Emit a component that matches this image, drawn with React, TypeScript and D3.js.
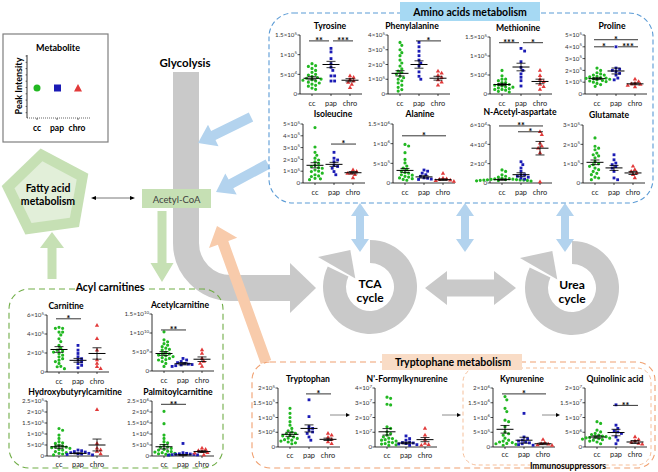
import React from "react";
import * as d3 from "d3";

const FONT = "Lato, 'Open Sans', sans-serif";

const categories = ["cc", "pap", "chro"];
const groupColors = ["#22b822", "#1b1bb5", "#e23a3a"];

type Tick = [number, string];
type Sig = [number, number, string, number];
type Metab = {
  title: string; cc: number[]; pap: number[]; chro: number[];
  mean: number[]; sem: number[]; yMax: number; ticks: Tick[]; sig: Sig[];
};

// ---------------- Amino acids ----------------
const tyrosine: Metab = {
  title: "Tyrosine",
  cc: [0.77, 0.72, 0.70, 0.65, 0.60, 0.55, 0.50, 0.48, 0.45, 0.42, 0.40, 0.38, 0.36, 0.35, 0.33, 0.30, 0.28, 0.25, 0.22, 0.20, 0.15, 0.12],
  pap: [1.16, 1.07, 0.90, 0.77, 0.68, 0.60, 0.46, 0.46, 0.33, 0.33],
  chro: [0.46, 0.42, 0.37, 0.33, 0.29, 0.24, 0.16],
  mean: [0.40, 0.75, 0.35], sem: [0.04, 0.08, 0.04], yMax: 1.5,
  ticks: [[0, "0"], [0.5, "5×10^4"], [1, "1×10^5"], [1.5, "1.5×10^5"]],
  sig: [[0, 1, "**", 1.35], [1, 2, "***", 1.35]],
};
const phenylalanine: Metab = {
  title: "Phenylalanine",
  cc: [3.5, 3.3, 3.0, 2.8, 2.6, 2.3, 2.1, 1.9, 1.7, 1.55, 1.45, 1.35, 1.2, 1.1, 1.0, 0.9, 0.75, 0.6, 0.45, 0.3, 0.2],
  pap: [3.5, 3.2, 2.9, 2.6, 2.3, 2.1, 1.9, 1.5, 1.2, 1.0],
  chro: [1.55, 1.4, 1.25, 1.1, 0.95, 0.8, 0.6],
  mean: [1.4, 2.0, 1.07], sem: [0.18, 0.25, 0.13], yMax: 4,
  ticks: [[0, "0"], [1, "1×10^5"], [2, "2×10^5"], [3, "3×10^5"], [4, "4×10^5"]],
  sig: [[1, 2, "*", 3.6]],
};
const methionine: Metab = {
  title: "Methionine",
  cc: [0.62, 0.48, 0.39, 0.35, 0.30, 0.25, 0.23, 0.21, 0.18, 0.16, 0.14, 0.12, 0.10, 0.07, 0.05, 0.39, 0.30, 0.25, 0.19, 0.12],
  pap: [1.2, 1.13, 0.85, 0.70, 0.62, 0.53, 0.44, 0.35, 0.21],
  chro: [0.62, 0.48, 0.39, 0.32, 0.25, 0.19, 0.12],
  mean: [0.25, 0.71, 0.33], sem: [0.03, 0.1, 0.06], yMax: 1.5,
  ticks: [[0, "0"], [0.5, "5×10^4"], [1, "1×10^5"], [1.5, "1.5×10^5"]],
  sig: [[0, 1, "***", 1.35], [1, 2, "*", 1.35]],
};
const proline: Metab = {
  title: "Proline",
  cc: [2.2, 2.0, 1.8, 1.7, 1.6, 1.5, 1.4, 1.33, 1.25, 1.2, 1.15, 1.05, 0.9, 0.8, 0.65, 1.45, 1.3, 1.1, 1.0, 1.6, 1.35],
  pap: [4.0, 2.2, 2.0, 1.9, 1.75, 1.6, 1.35, 1.2, 2.1],
  chro: [1.25, 1.05, 0.92, 0.8, 0.72, 0.6, 0.85],
  mean: [1.3, 1.95, 0.86], sem: [0.08, 0.25, 0.08], yMax: 5,
  ticks: [[0, "0"], [1, "1×10^5"], [2, "2×10^5"], [3, "3×10^5"], [4, "4×10^5"], [5, "5×10^5"]],
  sig: [[0, 2, "*", 4.6], [0, 1, "*", 4.0], [1, 2, "***", 4.0]],
};
const isoleucine: Metab = {
  title: "Isoleucine",
  cc: [4.7, 3.05, 2.6, 2.35, 2.1, 1.95, 1.65, 1.5, 1.4, 1.25, 1.1, 0.97, 0.83, 0.7, 0.55, 0.4, 0.28, 1.3, 1.0, 0.6, 0.35, 1.8],
  pap: [2.6, 2.1, 1.95, 1.8, 1.5, 1.4, 1.25, 0.97, 0.7],
  chro: [1.1, 0.97, 0.83, 0.7, 0.42, 0.8],
  mean: [1.5, 1.58, 0.87], sem: [0.22, 0.17, 0.1], yMax: 5,
  ticks: [[0, "0"], [1, "1×10^5"], [2, "2×10^5"], [3, "3×10^5"], [4, "4×10^5"], [5, "5×10^5"]],
  sig: [[1, 2, "*", 3.3]],
};
const alanine: Metab = {
  title: "Alanine",
  cc: [0.98, 0.94, 0.77, 0.6, 0.51, 0.43, 0.34, 0.30, 0.26, 0.21, 0.17, 0.13, 0.09, 0.07, 0.25, 0.15, 0.11, 0.38, 0.2],
  pap: [0.33, 0.30, 0.21, 0.17, 0.13, 0.10, 0.09, 0.25, 0.12],
  chro: [0.24, 0.10, 0.09, 0.06, 0.04, 0.07, 0.12],
  mean: [0.32, 0.155, 0.085], sem: [0.05, 0.03, 0.02], yMax: 1.5,
  ticks: [[0, "0"], [0.5, "5×10^5"], [1, "1×10^6"], [1.5, "1.5×10^6"]],
  sig: [[0, 2, "*", 1.2]],
};
const nAcetylAspartate: Metab = {
  title: "N-Acetyl-aspartate",
  cc: [1.35, 1.2, 0.85, 0.7, 0.5, 0.4, 0.35, 0.28, 0.3, 0.25, 0.32, 0.38, 0.45, 0.22, 0.3, 0.27, 0.35, 0.42, 0.6, 0.2, 0.33],
  pap: [2.2, 1.9, 1.55, 1.2, 0.85, 0.7, 0.5, 0.4, 0.85, 0.6],
  chro: [5.3, 5.0, 4.1, 3.8, 3.6, 3.1, 0.1],
  mean: [0.35, 0.86, 3.6], sem: [0.07, 0.2, 0.7], yMax: 6,
  ticks: [[0, "0"], [2, "2×10^4"], [4, "4×10^4"], [6, "6×10^4"]],
  sig: [[0, 2, "**", 5.9], [1, 2, "*", 5.3]],
};
const glutamate: Metab = {
  title: "Glutamate",
  cc: [2.33, 1.9, 1.8, 1.72, 1.55, 1.46, 1.3, 1.12, 0.95, 0.86, 0.77, 0.69, 0.6, 0.43, 0.26, 0.17, 1.0, 0.5, 1.4, 0.3],
  pap: [1.46, 1.2, 1.03, 0.95, 0.77, 0.6, 0.26, 0.17, 0.85],
  chro: [0.86, 0.69, 0.6, 0.52, 0.43, 0.26],
  mean: [1.07, 0.78, 0.52], sem: [0.12, 0.13, 0.08], yMax: 3,
  ticks: [[0, "0"], [1, "1×10^5"], [2, "2×10^5"], [3, "3×10^5"]],
  sig: [],
};

// ---------------- Acyl carnitines ----------------
const carnitine: Metab = {
  title: "Carnitine",
  cc: [4.7, 4.6, 4.2, 3.9, 3.5, 3.2, 2.8, 2.5, 2.3, 2.1, 1.95, 1.77, 1.6, 1.4, 1.25, 0.9, 0.55, 0.35, 4.6, 4.2, 2.2, 1.1, 0.6],
  pap: [2.8, 2.3, 1.95, 1.6, 1.4, 1.25, 1.05, 0.88, 0.7, 0.45],
  chro: [4.9, 3.5, 2.3, 1.25, 0.9, 0.55, 0.35],
  mean: [2.37, 1.23, 1.95], sem: [0.3, 0.2, 0.6], yMax: 6,
  ticks: [[0, "0"], [2, "2×10^5"], [4, "4×10^5"], [6, "6×10^5"]],
  sig: [[0, 1, "*", 5.6]],
};
const acetylcarnitine: Metab = {
  title: "Acetylcarnitine",
  cc: [1.03, 0.82, 0.77, 0.72, 0.68, 0.64, 0.57, 0.5, 0.46, 0.42, 0.38, 0.33, 0.29, 0.25, 0.2, 0.12, 0.55, 0.45, 0.35, 0.6, 0.4, 0.3],
  pap: [0.33, 0.29, 0.25, 0.2, 0.18, 0.17, 0.14, 0.12, 0.22, 0.16],
  chro: [0.55, 0.46, 0.33, 0.25, 0.2, 0.12],
  mean: [0.46, 0.19, 0.31], sem: [0.05, 0.03, 0.06], yMax: 1.5,
  ticks: [[0, "0"], [0.5, "5×10^9"], [1, "1×10^10"], [1.5, "1.5×10^10"]],
  sig: [[0, 1, "**", 1.08]],
};
const hydroxybutyrylcarnitine: Metab = {
  title: "Hydroxybutyrylcarnitine",
  cc: [1.25, 1.17, 0.95, 0.8, 0.65, 0.57, 0.5, 0.42, 0.35, 0.27, 0.2, 0.12, 0.09, 0.45, 0.38, 0.3, 0.15, 0.05, 0.6, 0.4],
  pap: [0.27, 0.24, 0.2, 0.15, 0.12, 0.09, 0.05, 0.18, 0.1, 0.07],
  chro: [2.1, 0.57, 0.35, 0.27, 0.2, 0.09],
  mean: [0.42, 0.12, 0.5], sem: [0.07, 0.02, 0.27], yMax: 2.5,
  ticks: [[0, "0"], [0.5, "5×10^4"], [1, "1×10^5"], [1.5, "1.5×10^5"], [2, "2×10^5"], [2.5, "2.5×10^5"]],
  sig: [],
};
const palmitoylcarnitine: Metab = {
  title: "Palmitoylcarnitine",
  cc: [2.03, 1.47, 0.95, 0.8, 0.65, 0.5, 0.42, 0.35, 0.27, 0.2, 0.12, 0.05, 0.3, 0.15, 0.08, 0.22, 0.4, 0.1, 0.18, 0.6],
  pap: [0.57, 0.15, 0.12, 0.09, 0.06, 0.05, 0.08, 0.1, 0.04, 0.07],
  chro: [0.35, 0.24, 0.2, 0.12, 0.05, 0.3, 0.15],
  mean: [0.42, 0.05, 0.2], sem: [0.1, 0.02, 0.04], yMax: 2.5,
  ticks: [[0, "0"], [0.5, "5×10^5"], [1, "1×10^6"], [1.5, "1.5×10^6"], [2, "2×10^6"], [2.5, "2.5×10^6"]],
  sig: [[0, 1, "**", 2.35]],
};

// ---------------- Tryptophane ----------------
const tryptophan: Metab = {
  title: "Tryptophan",
  cc: [1.31, 1.14, 1.0, 0.86, 0.74, 0.63, 0.51, 0.46, 0.4, 0.34, 0.29, 0.23, 0.17, 0.11, 0.45, 0.3, 0.2, 0.55, 0.38, 0.25, 0.14],
  pap: [1.6, 1.03, 0.69, 0.63, 0.57, 0.51, 0.46, 0.34, 0.23],
  chro: [0.46, 0.4, 0.32, 0.25, 0.17, 0.11],
  mean: [0.43, 0.63, 0.26], sem: [0.07, 0.12, 0.04], yMax: 2,
  ticks: [[0, "0"], [0.5, "5×10^4"], [1, "1×10^5"], [1.5, "1.5×10^5"], [2, "2×10^5"]],
  sig: [[1, 2, "*", 1.8]],
};
const formylkynurenine: Metab = {
  title: "N'-Formylkynurenine",
  cc: [3.38, 3.3, 2.9, 2.85, 1.37, 1.26, 1.03, 0.91, 0.8, 0.69, 0.57, 0.46, 0.34, 0.23, 0.11, 0.6, 0.4, 0.3, 0.15, 0.2, 0.5],
  pap: [0.75, 0.57, 0.46, 0.34, 0.27, 0.23, 0.16, 0.11, 0.3, 0.2],
  chro: [1.26, 0.8, 0.5, 0.23, 0.16, 0.11],
  mean: [1.03, 0.27, 0.5], sem: [0.22, 0.06, 0.14], yMax: 4,
  ticks: [[0, "0"], [1, "1×10^7"], [2, "2×10^7"], [3, "3×10^7"], [4, "4×10^7"]],
  sig: [],
};
const kynurenine: Metab = {
  title: "Kynurenine",
  cc: [1.71, 1.6, 1.31, 1.2, 0.91, 0.86, 0.69, 0.51, 0.4, 0.23, 0.17, 0.11, 0.06, 0.3, 0.15, 0.09, 0.45, 0.2, 0.12],
  pap: [1.14, 0.34, 0.23, 0.17, 0.14, 0.11, 0.08, 0.06, 0.28, 0.2],
  chro: [0.25, 0.14, 0.09, 0.07, 0.05, 0.11],
  mean: [0.6, 0.23, 0.11], sem: [0.13, 0.1, 0.03], yMax: 2,
  ticks: [[0, "0"], [0.5, "5×10^5"], [1, "1×10^6"], [1.5, "1.5×10^6"], [2, "2×10^6"]],
  sig: [[0, 2, "*", 1.8]],
};
const quinolinicAcid: Metab = {
  title: "Quinolinic acid",
  cc: [0.86, 0.8, 0.57, 0.51, 0.46, 0.4, 0.37, 0.34, 0.31, 0.27, 0.23, 0.17, 0.11, 0.35, 0.3, 0.25, 0.2, 0.42, 0.28, 0.32],
  pap: [1.43, 0.74, 0.63, 0.51, 0.46, 0.34, 0.23, 0.11, 0.55],
  chro: [0.34, 0.25, 0.2, 0.15, 0.09, 0.12],
  mean: [0.34, 0.49, 0.17], sem: [0.04, 0.11, 0.05], yMax: 2,
  ticks: [[0, "0"], [0.5, "5×10^6"], [1, "1×10^7"], [1.5, "1.5×10^7"], [2, "2×10^7"]],
  sig: [[1, 2, "**", 1.41]],
};

// ---------------- Layout (positions only) ----------------
const plotLayout = [
  { m: tyrosine, ax: 300, top: 35, bottom: 94, tx: 330, ty: 6, lx: 11.5 },
  { m: phenylalanine, ax: 388, top: 35, bottom: 94, tx: 412, ty: 6, lx: 11.5 },
  { m: methionine, ax: 490, top: 37, bottom: 94, tx: 518, ty: 6, lx: 11.5 },
  { m: proline, ax: 585, top: 35, bottom: 94, tx: 612, ty: 6, lx: 11.5 },
  { m: isoleucine, ax: 303, top: 124, bottom: 183, tx: 333, ty: 7, lx: 11.5 },
  { m: alanine, ax: 393, top: 124, bottom: 183, tx: 420, ty: 7, lx: 11.5 },
  { m: nAcetylAspartate, ax: 490, top: 125, bottom: 183, tx: 520, ty: 10, lx: 11.5 },
  { m: glutamate, ax: 583, top: 125, bottom: 183, tx: 609, ty: 7, lx: 11.5 },
  { m: carnitine, ax: 47, top: 315, bottom: 372, tx: 66, ty: 6, lx: 11.5 },
  { m: acetylcarnitine, ax: 152, top: 314, bottom: 371, tx: 180, ty: 6, lx: 11.5 },
  { m: hydroxybutyrylcarnitine, ax: 47, top: 401, bottom: 456, tx: 75, ty: 6, lx: 10.5 },
  { m: palmitoylcarnitine, ax: 152, top: 401, bottom: 456, tx: 178, ty: 6, lx: 10.5 },
  { m: tryptophan, ax: 278, top: 388, bottom: 447, tx: 308, ty: 6, lx: 10.5 },
  { m: formylkynurenine, ax: 375, top: 388, bottom: 447, tx: 407, ty: 6, lx: 10.5 },
  { m: kynurenine, ax: 493, top: 388, bottom: 447, tx: 522, ty: 6, lx: 10 },
  { m: quinolinicAcid, ax: 585, top: 388, bottom: 447, tx: 615, ty: 6, lx: 10 },
];

function swarm(ys: number[], d: number): number[] {
  const order = ys.map((_, i) => i).sort((a, b) => ys[a] - ys[b]);
  const placed: [number, number][] = [];
  const xs = new Array(ys.length).fill(0);
  for (const i of order) {
    const y = ys[i];
    for (let k = 0; k < 40; k++) {
      const off = k === 0 ? 0 : (k % 2 === 1 ? 1 : -1) * Math.ceil(k / 2) * d * 0.55;
      if (placed.every(([px, py]) => Math.hypot(px - off, py - y) >= d)) {
        xs[i] = off;
        placed.push([off, y]);
        break;
      }
    }
  }
  return xs;
}

function TickLabel({ x, y, label }: { x: number; y: number; label: string }) {
  const [base, sup] = label.split("^");
  return (
    <text x={x} y={y + 2.2} textAnchor="end" fontSize={6.2} fill="#333" fontFamily={FONT}>
      {base}
      {sup && <tspan fontSize={4.4} dy={-2.6}>{sup}</tspan>}
    </text>
  );
}

const symCircle = d3.symbol().type(d3.symbolCircle).size(8)() as string;
const symSquare = d3.symbol().type(d3.symbolSquare).size(8)() as string;
const symTriangle = d3.symbol().type(d3.symbolTriangle).size(8)() as string;
const symbols = [symCircle, symSquare, symTriangle];

function Plot({ p }: { p: typeof plotLayout[number] }) {
  const m = p.m;
  const y = d3.scaleLinear().domain([0, m.yMax]).range([p.bottom, p.top]);
  const x = d3.scalePoint<string>().domain(categories).range([p.ax + 12, p.ax + 50]);
  const groups = [m.cc, m.pap, m.chro];
  return (
    <g fontFamily={FONT}>
      <text x={p.tx} y={p.top - p.ty} textAnchor="middle" fontSize={8.6} fontWeight="bold" fill="#000">{m.title}</text>
      <line x1={p.ax} x2={p.ax} y1={y(0)} y2={y(m.yMax)} stroke="#000" strokeWidth={0.8} />
      <line x1={p.ax} x2={p.ax + 62} y1={y(0)} y2={y(0)} stroke="#000" strokeWidth={0.8} />
      {m.ticks.map(([v, lab]) => (
        <g key={lab}>
          <line x1={p.ax - 2.5} x2={p.ax} y1={y(v)} y2={y(v)} stroke="#000" strokeWidth={0.7} />
          <TickLabel x={p.ax - 3} y={y(v)} label={lab} />
        </g>
      ))}
      {categories.map((c) => (
        <g key={c}>
          <line x1={x(c)} x2={x(c)} y1={y(0)} y2={y(0) + 2} stroke="#000" strokeWidth={0.7} />
          <text x={x(c)} y={p.bottom + p.lx} textAnchor="middle" fontSize={7.4} fill="#222">{c}</text>
        </g>
      ))}
      {groups.map((vals, gi) => {
        const ys = vals.map((v) => y(v));
        const xs = swarm(ys, 3.3);
        const cx = x(categories[gi]) as number;
        return vals.map((v, i) => (
          <path key={gi + "-" + i} d={symbols[gi]} transform={`translate(${cx + xs[i]},${ys[i]})`} fill={groupColors[gi]} />
        ));
      })}
      {m.mean.map((mv, gi) => {
        const cx = x(categories[gi]) as number;
        const s = m.sem[gi];
        return (
          <g key={"ms" + gi} stroke="#000" fill="none">
            <line x1={cx - 8.5} x2={cx + 8.5} y1={y(mv)} y2={y(mv)} strokeWidth={1} />
            <line x1={cx} x2={cx} y1={y(mv - s)} y2={y(mv + s)} strokeWidth={0.8} />
            <line x1={cx - 4.5} x2={cx + 4.5} y1={y(mv + s)} y2={y(mv + s)} strokeWidth={0.8} />
            <line x1={cx - 4.5} x2={cx + 4.5} y1={y(mv - s)} y2={y(mv - s)} strokeWidth={0.8} />
          </g>
        );
      })}
      {m.sig.map(([a, b, lab, lv], i) => {
        const endsAtA = m.sig.some((s) => s !== m.sig[i] && s[3] === lv && s[1] === a);
        const startsAtB = m.sig.some((s) => s !== m.sig[i] && s[3] === lv && s[0] === b);
        const x1 = (x(categories[a]) as number) + (endsAtA ? 2 : -3);
        const x2 = (x(categories[b]) as number) + (startsAtB ? -2 : 3);
        return (
          <g key={"sig" + i}>
            <line x1={x1} x2={x2} y1={y(lv)} y2={y(lv)} stroke="#000" strokeWidth={0.8} />
            <text x={(x1 + x2) / 2} y={y(lv) + 3.2} textAnchor="middle" fontSize={9} fontWeight="bold" fill="#000">{lab}</text>
          </g>
        );
      })}
    </g>
  );
}

function blockArrow(x1: number, y1: number, x2: number, y2: number, shaft: number, headW: number, headL: number, both = false) {
  const dx = x2 - x1, dy = y2 - y1, L = Math.hypot(dx, dy);
  const ux = dx / L, uy = dy / L, px = -uy, py = ux;
  const pt = (bx: number, by: number, w: number) => [bx + px * w / 2, by + py * w / 2];
  const bx = x2 - ux * headL, by = y2 - uy * headL;
  let pts: number[][];
  if (!both) {
    pts = [pt(x1, y1, shaft), pt(bx, by, shaft), pt(bx, by, headW), [x2, y2], pt(bx, by, -headW), pt(bx, by, -shaft), pt(x1, y1, -shaft)];
  } else {
    const ax = x1 + ux * headL, ay = y1 + uy * headL;
    pts = [[x1, y1], pt(ax, ay, headW), pt(ax, ay, shaft), pt(bx, by, shaft), pt(bx, by, headW), [x2, y2], pt(bx, by, -headW), pt(bx, by, -shaft), pt(ax, ay, -shaft), pt(ax, ay, -headW)];
  }
  return pts.map((p) => p.map((v) => v.toFixed(1)).join(",")).join(" ");
}

function pentagon(cx: number, cy: number, r: number, rot: number) {
  return d3.range(5).map((i) => {
    const a = (rot + i * 72) * Math.PI / 180;
    return [cx + r * Math.cos(a), cy + r * Math.sin(a)].map((v) => v.toFixed(1)).join(",");
  }).join(" ");
}

const GRAY = "#c9c9c9";
const BLUE_ARROW = "#b3d3ee";
const GREEN_FILL = "#c6e0b4";
const ORANGE_ARROW = "#f8cbab";

function CycleDonut({ cx, cy, line1, line2 }: { cx: number; cy: number; line1: string; line2: string }) {
  const arc = d3.arc()({ innerRadius: 24, outerRadius: 47, startAngle: 0, endAngle: (296 * Math.PI) / 180 } as any) as string;
  const pol = (deg: number, r: number) => {
    const a = (deg * Math.PI) / 180;
    return [(r * Math.sin(a)).toFixed(1), (-r * Math.cos(a)).toFixed(1)].join(",");
  };
  const head = [pol(300, 60), pol(332, 42), pol(300, 17)].join(" ");
  return (
    <g transform={`translate(${cx},${cy})`}>
      <path d={arc} fill={GRAY} />
      <polygon points={head} fill={GRAY} />
      <text x={0} y={1} textAnchor="middle" fontSize={12} fontWeight="bold" fontFamily={FONT} fill="#000">{line1}</text>
      <text x={0} y={15} textAnchor="middle" fontSize={12} fontWeight="bold" fontFamily={FONT} fill="#000">{line2}</text>
    </g>
  );
}

export default function App() {
  return (
    <div style={{ position: "absolute", left: 0, top: 0 }}>
      <svg width={658} height={472} style={{ display: "block", background: "#fff" }}>
        <rect x={0} y={0} width={658} height={472} fill="#fff" />

        <text x={185} y={67} textAnchor="middle" fontSize={11.5} fontWeight="bold" fontFamily={FONT}>Glycolysis</text>
        <path d="M186,72 L186,243 A45,45 0 0 0 231,288 L291,288" fill="none" stroke={GRAY} strokeWidth={26} />
        <polygon points="290,263 316,288 290,313" fill={GRAY} />

        <CycleDonut cx={370} cy={287} line1="TCA" line2="cycle" />
        <CycleDonut cx={572} cy={288} line1="Urea" line2="cycle" />
        <polygon points={blockArrow(425, 288, 516, 288, 17, 34, 22, true)} fill={GRAY} />

        <polygon points={blockArrow(251, 117, 198, 143, 10, 24, 17)} fill={BLUE_ARROW} />
        <polygon points={blockArrow(268, 164, 216, 192, 10, 24, 17)} fill={BLUE_ARROW} />
        <polygon points={blockArrow(360, 203, 360, 252, 8, 18, 13, true)} fill={BLUE_ARROW} />
        <polygon points={blockArrow(465, 203, 465, 252, 8, 18, 13, true)} fill={BLUE_ARROW} />
        <polygon points={blockArrow(565, 203, 565, 252, 8, 18, 13, true)} fill={BLUE_ARROW} />

        <polygon points={blockArrow(266, 362, 217, 226, 11, 30, 18)} fill={ORANGE_ARROW} />

        <polygon points={blockArrow(162, 211, 162, 282, 9, 23, 19)} fill={GREEN_FILL} />
        <polygon points={blockArrow(52, 279, 52, 232, 9, 24, 16)} fill={GREEN_FILL} />

        <polygon points={pentagon(47, 194, 46, 190)} fill={GREEN_FILL} />
        <polygon points={pentagon(47, 194, 33, 190)} fill="#e2efd9" />
        <text x={48} y={192} textAnchor="middle" fontSize={10.5} fontWeight="bold" fontFamily={FONT}>Fatty acid</text>
        <text x={48} y={205} textAnchor="middle" fontSize={10.5} fontWeight="bold" fontFamily={FONT}>metabolism</text>

        <line x1={94} x2={132} y1={198} y2={198} stroke="#555" strokeWidth={0.8} />
        <polygon points="91,198 96,196 96,200" fill="#000" />
        <polygon points="135,198 130,196 130,200" fill="#000" />

        <rect x={142} y={189} width={69} height={19} fill={GREEN_FILL} />
        <text x={176.5} y={202.5} textAnchor="middle" fontSize={9.5} fontFamily={FONT} fill="#404040">Acetyl-CoA</text>

        <rect x={3} y={34} width={105} height={108} fill="#fff" stroke="#7f7f7f" strokeWidth={1.2} />
        <text x={58} y={51} textAnchor="middle" fontSize={9} fontWeight="bold" fontFamily={FONT}>Metabolite</text>
        <text transform="translate(22,86) rotate(-90)" textAnchor="middle" fontSize={9} fontWeight="bold" fontFamily={FONT}>Peak Intensity</text>
        <line x1={27} x2={27} y1={55} y2={118} stroke="#000" strokeWidth={0.8} />
        {d3.range(56, 119, 6.3).map((yy) => (
          <line key={yy} x1={25.5} x2={27} y1={yy} y2={yy} stroke="#000" strokeWidth={0.5} />
        ))}
        <line x1={27} x2={90} y1={118} y2={118} stroke="#000" strokeWidth={0.6} strokeDasharray="1,1" />
        {[37, 57, 78].map((xx) => (
          <line key={xx} x1={xx} x2={xx} y1={118} y2={120} stroke="#000" strokeWidth={0.6} />
        ))}
        <circle cx={37} cy={88} r={3.5} fill={groupColors[0]} />
        <rect x={54} y={84.5} width={7} height={7} fill={groupColors[1]} />
        <polygon points="78,84 82,91.5 74,91.5" fill={groupColors[2]} />
        <text x={37} y={131} textAnchor="middle" fontSize={8.5} fontWeight="bold" fontFamily={FONT}>cc</text>
        <text x={57} y={131} textAnchor="middle" fontSize={8.5} fontWeight="bold" fontFamily={FONT}>pap</text>
        <text x={77} y={131} textAnchor="middle" fontSize={8.5} fontWeight="bold" fontFamily={FONT}>chro</text>

        <rect x={269} y={13} width={384} height={190} rx={24} fill="none" stroke="#5b9bd5" strokeWidth={1.1} strokeDasharray="5,3" />
        <rect x={400} y={2} width={140} height={19} fill="#a6d9f3" />
        <text x={470} y={15.5} textAnchor="middle" fontSize={10.5} fontWeight="bold" fontFamily={FONT}>Amino acids metabolism</text>

        <rect x={9} y={289} width={214} height={179} rx={20} fill="none" stroke="#70ad47" strokeWidth={1.1} strokeDasharray="6,4" />
        <rect x={76} y={283} width={68} height={12} fill="#fff" />
        <text x={110} y={291} textAnchor="middle" fontSize={10.5} fontWeight="bold" fontFamily={FONT}>Acyl carnitines</text>

        <rect x={252} y={362} width={403} height={106} rx={18} fill="none" stroke="#f0a070" strokeWidth={1.1} strokeDasharray="6,4" />
        <rect x={463} y={368} width={188} height={97} rx={14} fill="none" stroke="#f4b88f" strokeWidth={0.9} strokeDasharray="4,3" />
        <rect x={382} y={354} width={140} height={16} fill="#f9dcc6" />
        <text x={453} y={366} textAnchor="middle" fontSize={10.5} fontWeight="bold" fontFamily={FONT}>Tryptophane metabolism</text>
        <text x={568} y={468.5} textAnchor="middle" fontSize={8.5} fontWeight="bold" fontFamily={FONT}>Immunosuppressors</text>

        {[[330, 350], [442, 461], [542, 560]].map(([a, b]) => (
          <g key={a}>
            <line x1={a} x2={b - 3} y1={415} y2={415} stroke="#7f7f7f" strokeWidth={0.9} />
            <polygon points={`${b},415 ${b - 4},413 ${b - 4},417`} fill="#000" />
          </g>
        ))}

        {plotLayout.map((p) => (
          <Plot key={p.m.title} p={p} />
        ))}
      </svg>
    </div>
  );
}
